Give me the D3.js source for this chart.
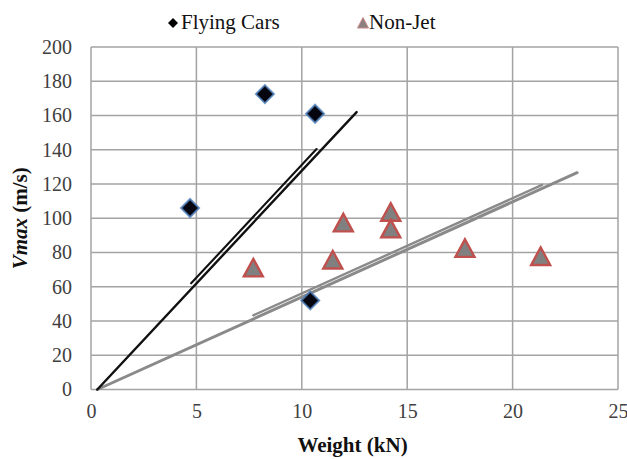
<!DOCTYPE html>
<html>
<head>
<meta charset="utf-8">
<script src="https://cdn.jsdelivr.net/npm/d3@7/dist/d3.min.js"></script>
<style>
  html, body { margin: 0; padding: 0; background: #fff; }
  svg { display: block; }
  svg text { font-family: "Liberation Serif", "DejaVu Serif", "Times New Roman", Times, serif; }
</style>
</head>
<body>
<svg id="chart" width="627" height="459"></svg>
<script>
// Flying cars: weight (kN) vs. maximum speed (m/s)
const flyingCarsWeight = [4.7, 8.25, 10.63, 10.4];
const flyingCarsVmax   = [106, 172.5, 161, 52];

// Non-jet aircraft
const nonJetWeight = [7.7, 11.47, 11.97, 14.22, 14.22, 17.74, 21.33];
const nonJetVmax   = [71, 75.6, 97.3, 103.5, 93.8, 82.4, 77.7];

// Trend lines: [x1, y1, x2, y2]
const carTrend      = [0.3, 0, 12.6, 162];
const carTrendB     = [4.75, 62, 10.7, 140.4];
const nonJetTrend   = [0.3, 0, 23.06, 126.6];
const nonJetTrendB  = [7.7, 43.3, 21.4, 119.5];

const xTicks = [0, 5, 10, 15, 20, 25];
const yTicks = [0, 20, 40, 60, 80, 100, 120, 140, 160, 180, 200];

const serif = '"Liberation Serif", "DejaVu Serif", "Times New Roman", Times, serif';

const svg = d3.select("#chart");
const plotLeft = 91, plotRight = 618, plotTop = 47, plotBottom = 389.5;

const x = d3.scaleLinear().domain([0, 25]).range([plotLeft, plotRight]);
const y = d3.scaleLinear().domain([0, 200]).range([plotBottom, plotTop]);

const gridColor = "#a3a3a3";

// gridlines
svg.append("g").selectAll("line").data(yTicks).join("line")
  .attr("x1", plotLeft).attr("x2", plotRight)
  .attr("y1", d => y(d)).attr("y2", d => y(d))
  .attr("stroke", gridColor).attr("stroke-width", 1.5);
svg.append("g").selectAll("line").data(xTicks).join("line")
  .attr("y1", plotTop).attr("y2", plotBottom)
  .attr("x1", d => x(d)).attr("x2", d => x(d))
  .attr("stroke", gridColor).attr("stroke-width", 1.5);

// axes (labels only; lines are drawn by the grid)
const xAxis = d3.axisBottom(x).tickValues(xTicks).tickSize(0).tickPadding(14);
const gx = svg.append("g").attr("transform", `translate(0,${plotBottom})`).call(xAxis);
gx.attr("font-family", null).style("font-family", serif);
gx.select(".domain").remove();
gx.selectAll("text").attr("font-size", 20).attr("fill", "#404040")
  .style("font-family", serif);

const yAxis = d3.axisLeft(y).tickValues(yTicks).tickSize(0).tickPadding(19);
const gy = svg.append("g").attr("transform", `translate(${plotLeft},0)`).call(yAxis);
gy.attr("font-family", null).style("font-family", serif);
gy.select(".domain").remove();
gy.selectAll("text").attr("font-size", 20).attr("fill", "#404040")
  .style("font-family", serif);

// trend lines
function seg(p, color, w) {
  svg.append("line")
    .attr("x1", x(p[0])).attr("y1", y(p[1]))
    .attr("x2", x(p[2])).attr("y2", y(p[3]))
    .attr("stroke", color).attr("stroke-width", w).attr("stroke-linecap", "round");
}
seg(nonJetTrend, "#8a8a8a", 3);
seg(nonJetTrendB, "#8a8a8a", 2.4);
seg(carTrend, "#111", 2.4);
seg(carTrendB, "#111", 2.1);

// markers
const diamond = (r) => `M0,${-r}L${r},0L0,${r}L${-r},0Z`;
const tri = (hw, up, down) => `M0,${-up}L${hw},${down}L${-hw},${down}Z`;

svg.append("g").selectAll("path").data(nonJetWeight).join("path")
  .attr("d", tri(9.5, 9, 8.5))
  .attr("transform", (d, i) => `translate(${x(d)},${y(nonJetVmax[i])})`)
  .attr("fill", "#808080").attr("stroke", "#c0504d").attr("stroke-width", 2.4)
  .attr("stroke-linejoin", "miter");

svg.append("g").selectAll("path").data(flyingCarsWeight).join("path")
  .attr("d", diamond(9))
  .attr("transform", (d, i) => `translate(${x(d)},${y(flyingCarsVmax[i])})`)
  .attr("fill", "#050510").attr("stroke", "#4f81bd").attr("stroke-width", 2)
  .attr("stroke-opacity", 0.8);

// legend
const leg = svg.append("g");
leg.append("path").attr("d", diamond(5)).attr("transform", "translate(173,23)")
  .attr("fill", "#000");
leg.append("text").attr("x", 181).attr("y", 29).attr("font-size", 21)
  .style("font-family", serif).attr("fill", "#111").text("Flying Cars");
leg.append("path").attr("d", tri(5.5, 5.5, 5)).attr("transform", "translate(363,23)")
  .attr("fill", "#8c7f80").attr("stroke", "#c98a88").attr("stroke-width", 1);
leg.append("text").attr("x", 369).attr("y", 29).attr("font-size", 21)
  .style("font-family", serif).attr("fill", "#111").text("Non-Jet");

// axis titles
svg.append("text").attr("x", (plotLeft + plotRight) / 2 - 2).attr("y", 452)
  .attr("text-anchor", "middle").attr("font-size", 21).attr("font-weight", "bold")
  .style("font-family", serif).attr("fill", "#111").text("Weight (kN)");

const yt = svg.append("text")
  .attr("transform", `translate(27,${(plotTop + plotBottom) / 2}) rotate(-90)`)
  .attr("text-anchor", "middle").attr("font-size", 21).attr("font-weight", "bold")
  .style("font-family", serif).attr("fill", "#111");
yt.append("tspan").attr("font-style", "italic").text("Vmax");
yt.append("tspan").text(" (m/s)");
</script>
</body>
</html>
